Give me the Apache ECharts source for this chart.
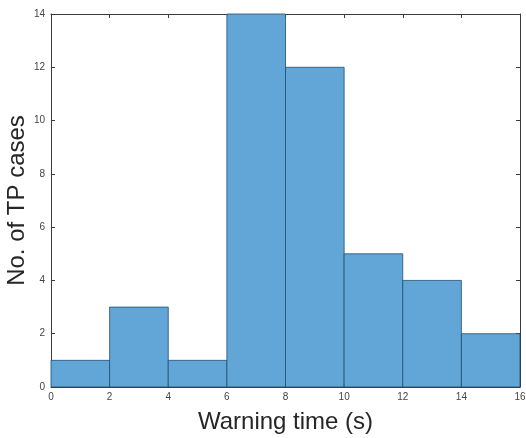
<!DOCTYPE html>
<html><head><meta charset="utf-8">
<script src="https://cdn.jsdelivr.net/npm/echarts@6/dist/echarts.min.js"></script>
<style>html,body{margin:0;padding:0;background:#fff}#c{width:526px;height:438px}</style>
</head><body><div id="c"></div>
<script>
const binEdges = [0, 2, 4, 6, 8, 10, 12, 14, 16];
const counts = [1, 3, 1, 14, 12, 5, 4, 2];
const xTitle = 'Warning time (s)';
const yTitle = 'No. of TP cases';

const data = counts.map((c, i) => [binEdges[i], binEdges[i + 1], c]);
const chart = echarts.init(document.getElementById('c'));
const axisLine = {show: true, onZero: false, lineStyle: {color: '#3a3a3a', width: 1}};
const tick = {show: true, inside: true, length: 4, lineStyle: {color: '#3a3a3a'}};
const lbl = {color: '#444', fontSize: 10, fontFamily: 'Liberation Sans, Arial, sans-serif'};
const titleStyle = {fontSize: 24, color: '#262626', fontFamily: 'Liberation Sans, Arial, sans-serif'};
chart.setOption({
  animation: false,
  grid: {left: 51, right: 6, top: 14, bottom: 51, containLabel: false, outerBoundsMode: 'none'},
  xAxis: [{
    type: 'value', min: 0, max: 16, interval: 2, position: 'bottom',
    axisLine, axisTick: tick, axisLabel: Object.assign({margin: 5}, lbl), splitLine: {show: false},
    name: xTitle, nameLocation: 'middle', nameGap: 23, nameMoveOverlap: false, nameTextStyle: titleStyle
  }, {
    type: 'value', min: 0, max: 16, interval: 2, position: 'top',
    axisLine, axisTick: tick, axisLabel: {show: false}, splitLine: {show: false}
  }],
  yAxis: [{
    type: 'value', min: 0, max: 14, interval: 2, position: 'left',
    axisLine, axisTick: tick, axisLabel: Object.assign({margin: 6}, lbl), splitLine: {show: false},
    name: yTitle, nameLocation: 'middle', nameGap: 22, nameMoveOverlap: false, nameTextStyle: titleStyle
  }, {
    type: 'value', min: 0, max: 14, interval: 2, position: 'right',
    axisLine, axisTick: tick, axisLabel: {show: false}, splitLine: {show: false}
  }],
  series: [{
    type: 'custom',
    xAxisIndex: 0, yAxisIndex: 0,
    data: data,
    encode: {x: [0, 1], y: 2},
    renderItem: function (params, api) {
      const p0 = api.coord([api.value(0), 0]);
      const p1 = api.coord([api.value(1), api.value(2)]);
      return {
        type: 'rect',
        shape: {x: p0[0], y: p1[1], width: p1[0] - p0[0], height: p0[1] - p1[1]},
        style: {fill: '#62a6d8', stroke: '#1e4f73', lineWidth: 0.8}
      };
    }
  }]
});
</script></body></html>
